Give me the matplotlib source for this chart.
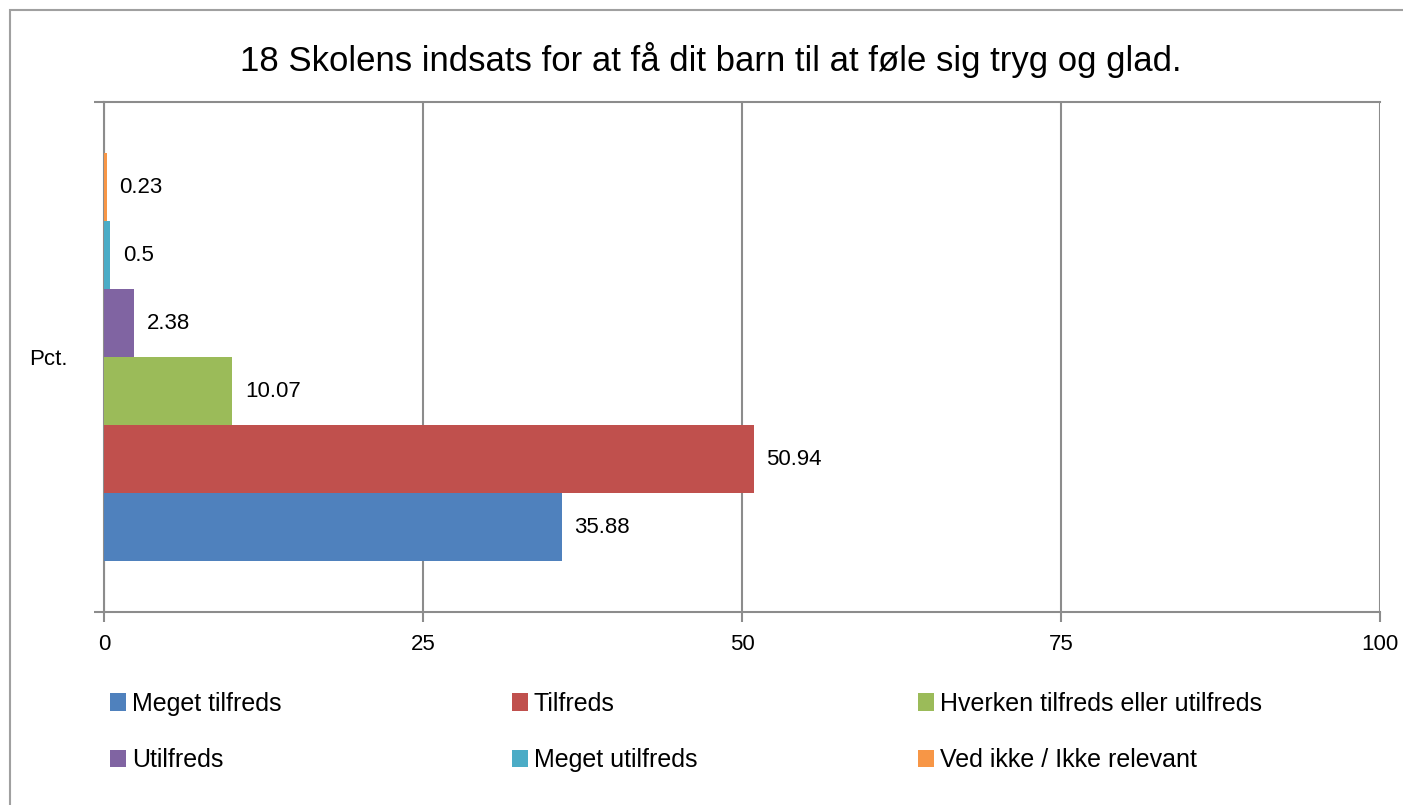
import matplotlib.pyplot as plt
from matplotlib.patches import Rectangle, Patch
import numpy as np

# ============================================================
# Data
# ============================================================
title = "18 Skolens indsats for at få dit barn til at føle sig tryg og glad."
category = "Pct."
series = ["Meget tilfreds", "Tilfreds", "Hverken tilfreds eller utilfreds",
          "Utilfreds", "Meget utilfreds", "Ved ikke / Ikke relevant"]
values = [35.88, 50.94, 10.07, 2.38, 0.5, 0.23]
value_labels = ["35.88", "50.94", "10.07", "2.38", "0.5", "0.23"]
colors = ["#4F81BD", "#C0504D", "#9BBB59", "#8064A2", "#4BACC6", "#F79646"]
xticks = [0, 25, 50, 75, 100]

# ============================================================
# Plot settings
# ============================================================
font = ["Liberation Sans", "DejaVu Sans"]
grid_col = "#8C8C8C"

W, H = 1403, 805
fig = plt.figure(figsize=(W / 100, H / 100), dpi=100)
fig.patch.set_facecolor("white")

# outer chart border (right and bottom edges fall outside the image)
fig.patches.append(Rectangle((10 / W, -0.2), 1.2, 1.2 - 10 / H, transform=fig.transFigure,
                             fill=False, edgecolor="#A0A0A0", linewidth=1.5))

ax = fig.add_axes([104 / W, (H - 612) / H, (1380 - 104) / W, (612 - 102) / H])

n = len(values)
h = 0.8 / n
ypos = -0.4 + h / 2 + h * np.arange(n)
ax.barh(ypos, values, height=h, color=colors, edgecolor="none", zorder=3)

for y, v, lab in zip(ypos, values, value_labels):
    ax.annotate(lab, (v, y), xytext=(9, 0), textcoords="offset points",
                ha="left", va="center", fontsize=16, family=font, color="black")

ax.set_xlim(0, 100)
ax.set_ylim(-0.5, 0.5)
ax.set_xticks(xticks)
ax.set_xticklabels([str(t) for t in xticks], family=font, fontsize=16)
ax.xaxis.grid(True, color=grid_col, linewidth=1.5, zorder=0)
ax.tick_params(axis="x", direction="out", length=7, width=1.5, color=grid_col, pad=9)

ax.set_yticks([-0.5, 0.5])
ax.set_yticklabels([])
ax.set_yticks([0], minor=True)
ax.set_yticklabels([category], minor=True, family=font, fontsize=16)
ax.tick_params(axis="y", which="major", direction="out", length=7, width=1.5, color=grid_col)
ax.tick_params(axis="y", which="minor", length=0, pad=26)

for s in ["left", "bottom", "top"]:
    ax.spines[s].set_color(grid_col)
    ax.spines[s].set_linewidth(1.5)
ax.spines["right"].set_visible(False)

fig.text(711 / W, 1 - 60 / H, title, ha="center", va="center",
         fontsize=25, family=font)

# legend: three columns placed where the reference has them
handles = [Patch(facecolor=c, edgecolor="none") for c in colors]
col_x = [110, 512, 918]
for k, x0 in enumerate(col_x):
    idx = [k, k + 3]
    fig.legend([handles[i] for i in idx], [series[i] for i in idx],
               loc="center left", bbox_to_anchor=(x0 / W, 1 - 732 / H),
               frameon=False, prop={"family": font, "size": 18},
               handlelength=0.62, handleheight=0.7, handletextpad=0.25,
               labelspacing=1.3, borderpad=0, borderaxespad=0)

fig.savefig("out.png", dpi=100)
